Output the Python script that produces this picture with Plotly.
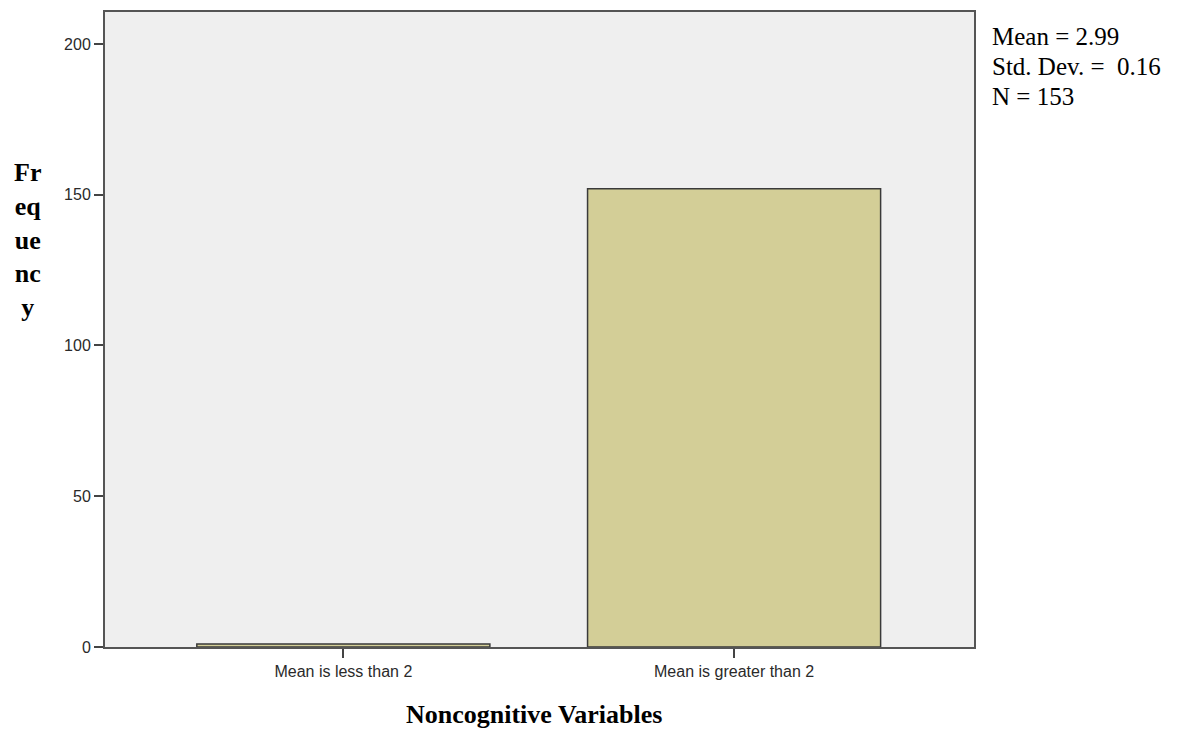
import plotly.graph_objects as go

categories = ["Mean is less than 2", "Mean is greater than 2"]
frequencies = [1, 152]
y_ticks = [0, 50, 100, 150, 200]
stats_lines = ["Mean = 2.99", "Std. Dev. =\u00a0 0.16", "N = 153"]

# page offset of the plot div (body margin) is ~8px
W, H = 1192, 725
L, T = 97, 2
R, B = 226, 86
PX0, PY0 = 105, 647       # page coords of plot origin
PW, PH = 869, 637         # plot size in px

def px(x):
    return (x - PX0) / PW

def py(y):
    return (PY0 - y) / PH

fig = go.Figure()
fig.add_trace(go.Bar(
    x=[0, 1], y=frequencies, width=0.75,
    marker=dict(color="#D3CE97", line=dict(color="#3a3a3a", width=1.5)),
    showlegend=False, hoverinfo="y",
))

axis_common = dict(
    ticks="outside", ticklen=9, tickwidth=1.5, tickcolor="#444",
    showline=True, linecolor="#555", linewidth=2, mirror=True,
    showgrid=False, zeroline=False,
    tickfont=dict(family="Liberation Sans, Arial, sans-serif", size=16, color="#2a2a2a"),
)

fig.update_layout(
    width=W, height=H,
    margin=dict(l=L, r=R, t=T, b=B),
    paper_bgcolor="white", plot_bgcolor="#EFEFEF",
    font=dict(family="Liberation Sans, Arial, sans-serif", size=16, color="#222"),
    xaxis=dict(range=[-0.61, 1.614], tickvals=[0, 1], ticktext=categories, **axis_common),
    yaxis=dict(range=[0, 210.6], tickvals=y_ticks, **axis_common),
)

serif = "Liberation Serif, Times New Roman, serif"

fig.add_annotation(
    text="<b>Fr<br>eq<br>ue<br>nc<br>y</b>", xref="paper", yref="paper",
    x=px(27), y=py(239), xanchor="center", yanchor="middle", showarrow=False,
    align="center", font=dict(family=serif, size=26, color="black"),
)
fig.add_annotation(
    text="<b>Noncognitive Variables</b>", xref="paper", yref="paper",
    x=px(534), y=py(715), xanchor="center", yanchor="middle", showarrow=False,
    font=dict(family=serif, size=26, color="black"),
)
for i, line in enumerate(stats_lines):
    fig.add_annotation(
        text=line, xref="paper", yref="paper",
        x=px(990), y=py(35 + 30 * i), xanchor="left", yanchor="middle",
        showarrow=False, align="left",
        font=dict(family=serif, size=25, color="black"),
    )

fig.write_html("out.html")
